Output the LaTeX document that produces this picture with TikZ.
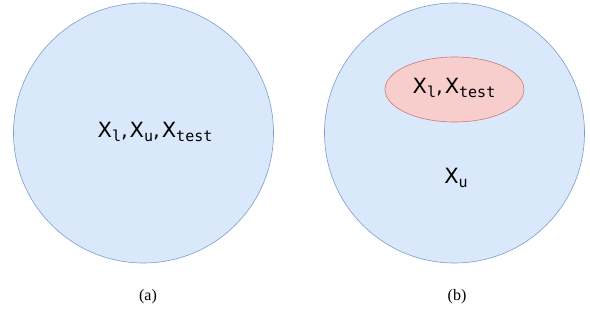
\documentclass[tikz,border=0pt]{standalone}
\usepackage{fontspec}
\setmainfont{Liberation Serif}
\newfontfamily\lblfont{DejaVu Sans}
\newfontfamily\subfont{DejaVu Sans Mono}
\usetikzlibrary{shapes.geometric}
\definecolor{bluefill}{HTML}{DAE8FC}
\definecolor{bluedraw}{HTML}{7E9CCB}
\definecolor{redfill}{HTML}{F8CECC}
\definecolor{reddraw}{HTML}{C77A77}
\newcommand{\xs}[1]{X\raisebox{-0.4ex}{\fontsize{15}{15}\subfont #1}}
\tikzset{
  setcircle/.style={circle, fill=bluefill, draw=bluedraw, line width=0.6pt, minimum size=260pt, inner sep=0pt},
  subset/.style={ellipse, fill=redfill, draw=reddraw, line width=0.6pt, minimum width=139pt, minimum height=65pt, inner sep=0pt},
  settext/.style={font=\fontsize{21}{21}\lblfont, inner sep=0pt},
  caption/.style={font=\fontsize{16}{16}\selectfont, inner sep=0pt}
}
\begin{document}
\begin{tikzpicture}[x=1pt,y=-1pt]
\useasboundingbox (0,0) rectangle (590,320);
\node[setcircle] (ca) at (143.5,133) {};
\node[setcircle] (cb) at (454.5,133) {};
\node[subset] (el) at (454.5,89.5) {};
\node[settext] (ta) at (155,132) {\xs{l},\kern2pt\xs{u},\kern2pt\xs{test}};
\node[settext] (tb) at (454,88) {\xs{l},\kern2pt\xs{test}};
\node[settext] (tu) at (456,178) {\xs{u}};
\node[caption] (la) at (148,297) {(a)};
\node[caption] (lb) at (457,297) {(b)};
\end{tikzpicture}
\end{document}
